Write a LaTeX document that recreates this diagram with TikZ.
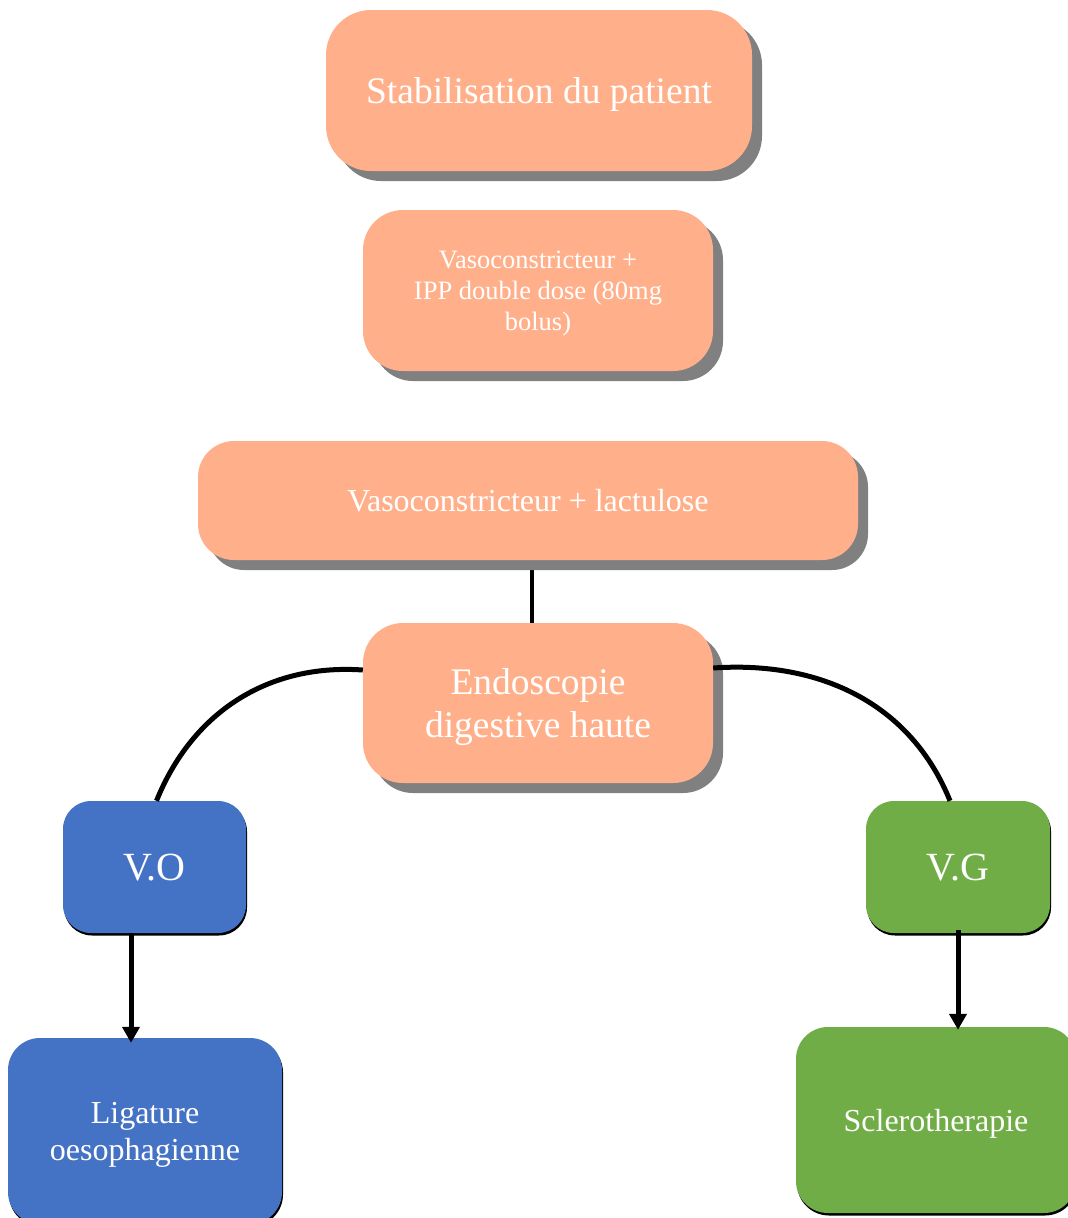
\documentclass[tikz,border=0pt]{standalone}
\usepackage{fontspec}
\setmainfont{Liberation Serif}
\usetikzlibrary{positioning,shadows,backgrounds,arrows.meta}

\definecolor{saumon}{HTML}{FFB08B}
\definecolor{bleu}{HTML}{4472C4}
\definecolor{vert}{HTML}{70AD47}
\definecolor{ombre}{HTML}{808080}

\tikzset{
  etape/.style={fill=saumon, text=white, align=center, inner sep=0pt, text depth=0pt,
    drop shadow={shadow xshift=10pt, shadow yshift=-10pt, fill=ombre, opacity=1}},
  branche/.style={text=white, align=center, inner sep=0pt, rounded corners=28pt, text depth=0pt,
    drop shadow={shadow xshift=1pt, shadow yshift=-2.5pt, fill=black, opacity=1}},
  lien/.style={line width=4pt, black},
  fleche/.style={line width=5pt, black, -{Triangle[length=16pt,width=17pt]}}
}

\begin{document}
\begin{tikzpicture}[x=1pt,y=-1pt]
\useasboundingbox (0,0) rectangle (1068,1218);

\node[etape, rounded corners=45pt, minimum width=426pt, minimum height=161pt,
  font=\fontsize{37.5}{44}\selectfont] (stab) at (539,90.5) {Stabilisation du patient};

\node[etape, rounded corners=40pt, minimum width=350pt, minimum height=161pt,
  font=\fontsize{26.5}{31}\selectfont] (ipp) at (538,290.5)
  {Vasoconstricteur +\\IPP double dose (80mg\\bolus)};

\node[etape, rounded corners=36pt, minimum width=660pt, minimum height=119pt,
  font=\fontsize{32}{38}\selectfont] (lact) at (528,500.5) {Vasoconstricteur + lactulose};

\node[etape, rounded corners=40pt, minimum width=350pt, minimum height=160pt,
  font=\fontsize{37.5}{43}\selectfont] (endo) at (538,703) {Endoscopie\\digestive haute};

\node[branche, fill=bleu, minimum width=183pt, minimum height=132pt,
  font=\fontsize{40}{46}\selectfont] (vo) at (154.5,867) {V.O};
\node[branche, fill=vert, minimum width=184pt, minimum height=132pt,
  font=\fontsize{40}{46}\selectfont] (vg) at (958,867) {V.G};

\node[branche, fill=bleu, rounded corners=32pt, minimum width=274pt, minimum height=186pt,
  font=\fontsize{32}{37}\selectfont] (lig) at (145,1131) {Ligature\\oesophagienne};
\node[branche, fill=vert, rounded corners=32pt, minimum width=280pt, minimum height=186pt,
  font=\fontsize{32}{37}\selectfont] (scler) at (936,1120) {Sclerotherapie};

\begin{scope}[on background layer]
\draw[lien] (lact.south -| endo.north) ++(-6pt,0) coordinate (haut)
  -- (haut |- endo.north);
\end{scope}

\draw[lien, line width=5pt] ([yshift=33pt]endo.west) to[out=176,in=68] ([xshift=2pt]vo.north);
\draw[lien, line width=5pt] ([yshift=35pt]endo.east) to[out=4,in=112] ([xshift=-8pt]vg.north);

\draw[fleche] ([xshift=-23.5pt]vo.south) -- ([xshift=-14pt,yshift=-5pt]lig.north);
\draw[fleche] ([yshift=3pt]vg.south) -- ([xshift=22pt,yshift=-3pt]scler.north);

\end{tikzpicture}
\end{document}
